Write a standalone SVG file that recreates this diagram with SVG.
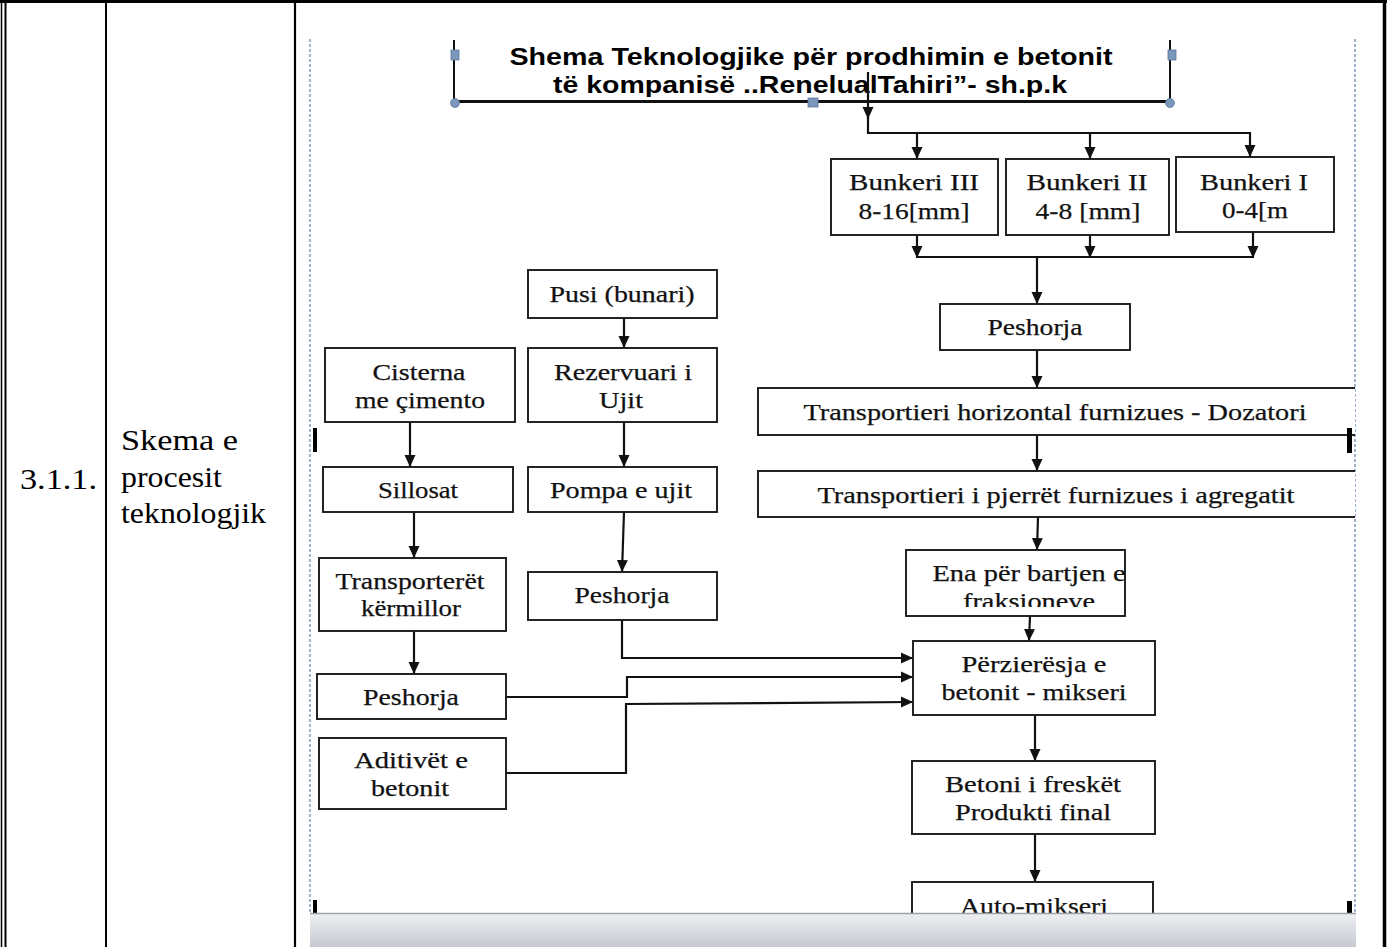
<svg xmlns="http://www.w3.org/2000/svg" width="1387" height="947" viewBox="0 0 1387 947">
<style>
.tbl{stroke:#000;fill:none}
.box{fill:#fff;stroke:#1a1a1a;stroke-width:1.9}
.t{font-family:"Liberation Serif","Times New Roman",serif;font-size:24px;fill:#111;text-anchor:middle;stroke:#111;stroke-width:0.25}
.cell{font-family:"Liberation Serif","Times New Roman",serif;font-size:29px;fill:#000}
.ttl{font-family:"Liberation Sans",Arial,sans-serif;font-weight:bold;font-size:23px;fill:#000;text-anchor:middle}
.c{stroke:#111;stroke-width:2.2;fill:none}
.ca{stroke:#111;stroke-width:2.2;fill:none;marker-end:url(#ah)}
.dash{stroke:#9fb3cc;stroke-width:2;stroke-dasharray:3 2}
.hs{fill:#7b97bb;stroke:#5a77a0;stroke-width:0.8}
.mk{fill:#000}
</style>
<defs>
<marker id="ah" markerUnits="userSpaceOnUse" markerWidth="13" markerHeight="13" viewBox="0 0 13 13" refX="12" refY="6.5" orient="auto">
<path d="M0,1 L12,6.5 L0,12 z" fill="#111"/>
</marker>
<clipPath id="page"><rect x="311" y="39" width="1044" height="874"/></clipPath>
<clipPath id="ttlclip"><rect x="455" y="39" width="714" height="58"/></clipPath>
<clipPath id="enaclip"><rect x="900" y="548" width="230" height="59"/></clipPath>
<linearGradient id="bar" x1="0" y1="0" x2="0" y2="1">
<stop offset="0" stop-color="#eef0f3"/>
<stop offset="1" stop-color="#c6cad0"/>
</linearGradient>
</defs>

<g id="table">
<rect x="0" y="0" width="1387" height="947" fill="#fff"/>
<line class="tbl" x1="0" y1="1.5" x2="1387" y2="1.5" stroke-width="3"/>
<line class="tbl" x1="1.5" y1="0" x2="1.5" y2="947" stroke-width="1.5"/>
<line class="tbl" x1="5.5" y1="0" x2="5.5" y2="947" stroke-width="2"/>
<line class="tbl" x1="106" y1="0" x2="106" y2="947" stroke-width="2"/>
<line class="tbl" x1="295" y1="0" x2="295" y2="947" stroke-width="2.2"/>
<line class="tbl" x1="1384.5" y1="0" x2="1384.5" y2="947" stroke-width="3.5"/>
<text class="cell" x="20" y="489" textLength="77" lengthAdjust="spacingAndGlyphs">3.1.1.</text>
<text class="cell" x="121" y="450" textLength="117" lengthAdjust="spacingAndGlyphs">Skema  e</text>
<text class="cell" x="121" y="487" textLength="101" lengthAdjust="spacingAndGlyphs">procesit</text>
<text class="cell" x="121" y="523" textLength="145" lengthAdjust="spacingAndGlyphs">teknologjik</text>
</g>

<g id="page-guides">
<line class="dash" x1="310" y1="39" x2="310" y2="913"/>
<line class="dash" x1="1355" y1="39" x2="1355" y2="913"/>
</g>

<g clip-path="url(#page)">
<g id="title">
<line x1="454" y1="40" x2="454" y2="102" stroke="#111" stroke-width="2"/>
<line x1="1170" y1="40" x2="1170" y2="102" stroke="#111" stroke-width="2"/>
<line x1="454" y1="101.5" x2="1170" y2="101.5" stroke="#111" stroke-width="3"/>
<g clip-path="url(#ttlclip)">
<text class="ttl" x="811" y="65" textLength="603" lengthAdjust="spacingAndGlyphs">Shema  Teknologjike për prodhimin e betonit</text>
<text class="ttl" x="810" y="93" textLength="514" lengthAdjust="spacingAndGlyphs">të kompanisë ..RenelualTahiri”- sh.p.k</text>
</g>
<rect class="hs" x="451" y="50" width="8" height="10"/>
<rect class="hs" x="1168" y="50" width="8" height="10"/>
<rect class="hs" x="808" y="98" width="10" height="9"/>
<circle class="hs" cx="455" cy="103" r="4.5"/>
<circle class="hs" cx="1170" cy="103" r="4.5"/>
</g>

<g id="connectors">
<line class="ca" x1="868" y1="72" x2="868" y2="119"/>
<polyline class="c" points="868,116 868,133 1251,133"/>
<line class="ca" x1="917" y1="133" x2="917" y2="159"/>
<line class="ca" x1="1090" y1="133" x2="1090" y2="159"/>
<line class="ca" x1="1250" y1="133" x2="1250" y2="157"/>
<line class="ca" x1="917" y1="235" x2="917" y2="258"/>
<line class="ca" x1="1090" y1="235" x2="1090" y2="258"/>
<line class="ca" x1="1253" y1="232" x2="1253" y2="258"/>
<line class="c" x1="916" y1="257" x2="1254" y2="257"/>
<line class="ca" x1="1037" y1="257" x2="1037" y2="304"/>
<line class="ca" x1="1037" y1="350" x2="1037" y2="388"/>
<line class="ca" x1="1037" y1="435" x2="1037" y2="471"/>
<line class="ca" x1="1038" y1="517" x2="1037" y2="550"/>
<line class="ca" x1="1030" y1="616" x2="1029" y2="641"/>
<line class="ca" x1="1035" y1="715" x2="1035" y2="761"/>
<line class="ca" x1="1035" y1="834" x2="1035" y2="882"/>
<line class="ca" x1="624" y1="318" x2="624" y2="348"/>
<line class="ca" x1="624" y1="422" x2="624" y2="467"/>
<line class="ca" x1="624" y1="512" x2="622" y2="572"/>
<line class="ca" x1="410" y1="422" x2="410" y2="467"/>
<line class="ca" x1="414" y1="512" x2="414" y2="558"/>
<line class="ca" x1="414" y1="631" x2="414" y2="674"/>
<polyline class="ca" points="622,620 622,658 913,658"/>
<polyline class="ca" points="506,697 627,697 627,677 913,677"/>
<polyline class="ca" points="506,773 626,773 626,704 913,702"/>
</g>

<g id="bunkeri3"><rect class="box" x="831" y="159" width="167" height="76"/>
<text class="t" x="914" y="190" textLength="130" lengthAdjust="spacingAndGlyphs">Bunkeri III</text>
<text class="t" x="914" y="219" textLength="111" lengthAdjust="spacingAndGlyphs">8-16[mm]</text></g>
<g id="bunkeri2"><rect class="box" x="1006" y="159" width="163" height="76"/>
<text class="t" x="1087" y="190" textLength="121" lengthAdjust="spacingAndGlyphs">Bunkeri II</text>
<text class="t" x="1088" y="219" textLength="105" lengthAdjust="spacingAndGlyphs">4-8 [mm]</text></g>
<g id="bunkeri1"><rect class="box" x="1176" y="157" width="158" height="75"/>
<text class="t" x="1254" y="190" textLength="108" lengthAdjust="spacingAndGlyphs">Bunkeri I</text>
<text class="t" x="1255" y="218" textLength="66" lengthAdjust="spacingAndGlyphs">0-4[m</text></g>
<g id="peshorja-r"><rect class="box" x="940" y="304" width="190" height="46"/>
<text class="t" x="1035" y="335" textLength="95" lengthAdjust="spacingAndGlyphs">Peshorja</text></g>
<g id="transportieri-h"><rect class="box" x="758" y="388" width="610" height="47"/>
<text class="t" x="1055" y="420" textLength="503" lengthAdjust="spacingAndGlyphs">Transportieri  horizontal furnizues - Dozatori</text></g>
<g id="transportieri-p"><rect class="box" x="758" y="471" width="610" height="46"/>
<text class="t" x="1056" y="503" textLength="477" lengthAdjust="spacingAndGlyphs">Transportieri  i pjerrët furnizues i agregatit</text></g>
<g id="ena"><rect class="box" x="906" y="550" width="219" height="66"/>
<g clip-path="url(#enaclip)">
<text class="t" x="1029" y="581" textLength="193" lengthAdjust="spacingAndGlyphs">Ena për bartjen e</text>
<text class="t" x="1029" y="609" textLength="132" lengthAdjust="spacingAndGlyphs">fraksioneve</text></g></g>
<g id="perzieresja"><rect class="box" x="913" y="641" width="242" height="74"/>
<text class="t" x="1034" y="672" textLength="145" lengthAdjust="spacingAndGlyphs">Përzierësja  e</text>
<text class="t" x="1034" y="700" textLength="185" lengthAdjust="spacingAndGlyphs">betonit - mikseri</text></g>
<g id="betoni"><rect class="box" x="912" y="761" width="243" height="73"/>
<text class="t" x="1033" y="792" textLength="176" lengthAdjust="spacingAndGlyphs">Betoni i freskët</text>
<text class="t" x="1033" y="820" textLength="156" lengthAdjust="spacingAndGlyphs">Produkti final</text></g>
<g id="auto-mikseri"><rect class="box" x="912" y="882" width="241" height="50"/>
<text class="t" x="1034" y="914" textLength="148" lengthAdjust="spacingAndGlyphs">Auto-mikseri</text></g>

<g id="pusi"><rect class="box" x="528" y="270" width="189" height="48"/>
<text class="t" x="622" y="302" textLength="145" lengthAdjust="spacingAndGlyphs">Pusi (bunari)</text></g>
<g id="rezervuari"><rect class="box" x="528" y="348" width="189" height="74"/>
<text class="t" x="623" y="380" textLength="138" lengthAdjust="spacingAndGlyphs">Rezervuari i</text>
<text class="t" x="621" y="408" textLength="44" lengthAdjust="spacingAndGlyphs">Ujit</text></g>
<g id="pompa"><rect class="box" x="528" y="467" width="189" height="45"/>
<text class="t" x="621" y="498" textLength="142" lengthAdjust="spacingAndGlyphs">Pompa e ujit</text></g>
<g id="peshorja-m"><rect class="box" x="528" y="572" width="189" height="48"/>
<text class="t" x="622" y="603" textLength="95" lengthAdjust="spacingAndGlyphs">Peshorja</text></g>
<g id="cisterna"><rect class="box" x="325" y="348" width="190" height="74"/>
<text class="t" x="419" y="380" textLength="93" lengthAdjust="spacingAndGlyphs">Cisterna</text>
<text class="t" x="420" y="408" textLength="130" lengthAdjust="spacingAndGlyphs">me çimento</text></g>
<g id="sillosat"><rect class="box" x="323" y="467" width="190" height="45"/>
<text class="t" x="418" y="498" textLength="80" lengthAdjust="spacingAndGlyphs">Sillosat</text></g>
<g id="transporteret"><rect class="box" x="319" y="558" width="187" height="73"/>
<text class="t" x="410" y="589" textLength="149" lengthAdjust="spacingAndGlyphs">Transporterët</text>
<text class="t" x="411" y="616" textLength="100" lengthAdjust="spacingAndGlyphs">kërmillor</text></g>
<g id="peshorja-l"><rect class="box" x="317" y="674" width="189" height="45"/>
<text class="t" x="411" y="705" textLength="96" lengthAdjust="spacingAndGlyphs">Peshorja</text></g>
<g id="aditivet"><rect class="box" x="319" y="738" width="187" height="71"/>
<text class="t" x="411" y="768" textLength="114" lengthAdjust="spacingAndGlyphs">Aditivët e</text>
<text class="t" x="410" y="796" textLength="78" lengthAdjust="spacingAndGlyphs">betonit</text></g>
</g>

<g id="handles">
<rect class="mk" x="313" y="428" width="4" height="24"/>
<rect class="mk" x="1347" y="428" width="5" height="25"/>
<rect class="mk" x="313" y="900" width="4" height="13"/>
<rect class="mk" x="1347" y="901" width="5" height="12"/>
</g>

<g id="scrollbar">
<rect x="310" y="913" width="1046" height="34" fill="url(#bar)"/>
<line x1="310" y1="913.5" x2="1356" y2="913.5" stroke="#9ea2a8" stroke-width="1.5"/>
</g>
</svg>
